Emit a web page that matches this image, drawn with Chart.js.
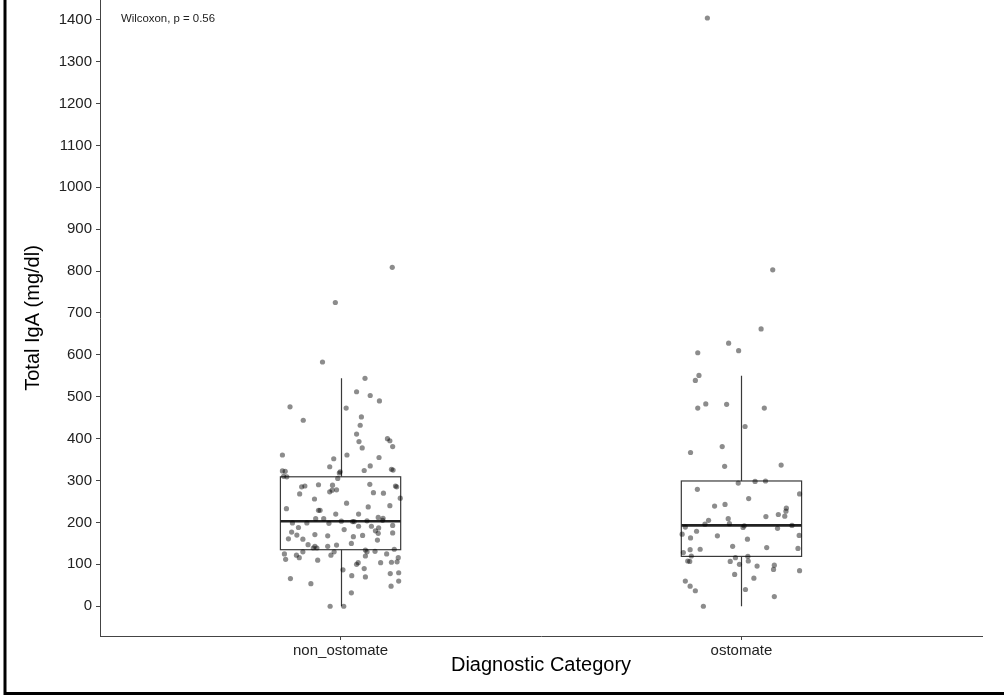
<!DOCTYPE html>
<html>
<head>
<meta charset="utf-8">
<script src="https://cdn.jsdelivr.net/npm/chart.js@4.4.1/dist/chart.umd.min.js"></script>
<style>
  html, body { margin: 0; padding: 0; background: #fff; }
  #wrap { width: 1004px; height: 698px; overflow: hidden; position: relative; }
  /* chart.js keeps a few px at the top for the point radius; push the canvas up by that much */
  #igaChart { position: absolute; left: 0; top: -4px; }
</style>
</head>
<body>
<div id="wrap"><canvas id="igaChart" width="1004" height="702"></canvas></div>
<script>
// categories and y ticks
const categories = ['non_ostomate', 'ostomate'];
const yTicks = [0, 100, 200, 300, 400, 500, 600, 700, 800, 900, 1000, 1100, 1200, 1300, 1400];

// box statistics per category
const whiskerLow = [0, 0];
const q1 = [135, 119];
const median = [203, 193];
const q3 = [309, 299];
const whiskerHigh = [544, 550];

// jittered points: horizontal offset from the category centre, and IgA value
const nonOstomateJitter = [
  0.129, -0.013, -0.045, 0.061, -0.126, 0.040, 0.074, 0.097, -0.093, 0.014,
  0.052, 0.049, 0.040, 0.046, 0.054, 0.117, 0.123, 0.130, -0.145, -0.017,
  0.016, 0.096, -0.027, 0.074, 0.059, 0.131, 0.127, -0.145, -0.138, -0.142,
  -0.134, -0.003, -0.001, -0.007, -0.097, -0.089, -0.055, -0.020, -0.027, -0.021,
  -0.010, -0.102, -0.065, 0.073, 0.082, 0.107, 0.140, 0.137, 0.149, 0.015,
  0.069, 0.123, -0.135, -0.055, -0.051, -0.012, 0.045, 0.094, 0.106, 0.105,
  -0.062, -0.042, -0.120, -0.084, -0.029, 0.002, 0.030, 0.034, 0.066, -0.105,
  0.045, 0.077, 0.095, 0.130, -0.122, -0.109, -0.064, -0.032, 0.009, 0.032,
  0.055, 0.087, 0.094, 0.130, -0.130, -0.094, 0.092, -0.081, -0.064, -0.068,
  -0.059, -0.032, -0.010, 0.027, 0.062, 0.066, 0.086, 0.134, -0.140, -0.094,
  -0.016, -0.024, -0.110, -0.103, -0.137, -0.057, 0.062, 0.115, 0.144, 0.040,
  0.044, 0.100, 0.127, 0.141, 0.006, 0.059, 0.028, 0.062, 0.124, 0.145,
  -0.125, -0.074, 0.126, 0.145, 0.027, -0.026, 0.008
];
const nonOstomateIgA = [
  809, 725, 583, 544, 476, 512, 503, 490, 444, 473,
  452, 432, 411, 393, 378, 400, 395, 381, 361, 352,
  361, 355, 333, 335, 324, 325, 327, 323, 322, 310,
  309, 318, 321, 305, 285, 287, 290, 289, 273, 277,
  278, 268, 256, 291, 271, 270, 285, 287, 258, 246,
  237, 240, 233, 229, 229, 220, 220, 212, 210, 205,
  209, 209, 199, 199, 198, 203, 202, 202, 204, 188,
  191, 191, 187, 193, 177, 170, 171, 168, 183, 166,
  169, 180, 174, 175, 161, 160, 158, 147, 143, 139,
  139, 143, 146, 150, 134, 130, 131, 136, 125, 130,
  130, 122, 122, 116, 112, 110, 120, 125, 116, 100,
  104, 104, 105, 106, 87, 90, 73, 70, 78, 80,
  66, 54, 48, 60, 32, 0, 0
];
const ostomateJitter = [
  -0.085, 0.078, 0.049, -0.032, -0.007, -0.109, -0.106, -0.115, -0.089, -0.109,
  -0.037, 0.057, 0.009, -0.048, -0.127, -0.042, 0.099, -0.008, 0.034, 0.060,
  -0.110, 0.145, 0.018, -0.041, -0.067, 0.112, 0.111, 0.092, 0.108, 0.061,
  -0.033, -0.082, -0.091, -0.030, -0.140, 0.004, 0.007, 0.090, 0.126, -0.112,
  -0.148, -0.060, -0.127, 0.015, 0.144, -0.022, 0.063, 0.141, -0.128, -0.103,
  -0.145, -0.125, -0.134, -0.129, -0.015, 0.016, -0.028, 0.017, -0.005, 0.039,
  0.082, 0.080, 0.145, -0.017, 0.031, -0.140, -0.128, -0.115, 0.010, 0.082,
  -0.095
];
const ostomateIgA = [
  1404, 803, 662, 628, 610, 605, 551, 539, 483, 473,
  482, 473, 429, 381, 367, 334, 337, 294, 298, 299,
  279, 268, 257, 243, 239, 234, 227, 219, 215, 214,
  209, 205, 196, 197, 189, 188, 192, 186, 193, 179,
  172, 168, 163, 160, 169, 143, 140, 138, 135, 136,
  128, 120, 108, 107, 116, 119, 107, 108, 100, 96,
  98, 88, 85, 76, 67, 60, 48, 37, 40, 23,
  0
];

const boxHalf = 0.15;

function toPoints(catIndex, offsets, values) {
  return values.map((v, i) => ({ x: catIndex + 1 + offsets[i], y: v }));
}

const boxPlugin = {
  id: 'boxes',
  beforeDatasetsDraw(chart) {
    const { ctx, scales: { x, y } } = chart;
    ctx.save();
    categories.forEach((c, i) => {
      const cx = Math.round(x.getPixelForValue(i + 1)) + 0.5;
      const left = x.getPixelForValue(i + 1 - boxHalf);
      const right = x.getPixelForValue(i + 1 + boxHalf);
      const yHi = y.getPixelForValue(whiskerHigh[i]);
      const yQ3 = y.getPixelForValue(q3[i]);
      const yMed = y.getPixelForValue(median[i]);
      const yQ1 = y.getPixelForValue(q1[i]);
      const yLo = y.getPixelForValue(whiskerLow[i]);

      ctx.strokeStyle = '#3a3a3a';
      ctx.lineWidth = 1.2;
      ctx.beginPath();
      ctx.moveTo(cx, yHi);
      ctx.lineTo(cx, yQ3);
      ctx.moveTo(cx, yQ1);
      ctx.lineTo(cx, yLo);
      ctx.stroke();
      ctx.strokeRect(left, yQ3, right - left, yQ1 - yQ3);

      ctx.strokeStyle = '#222';
      ctx.lineWidth = 2.6;
      ctx.beginPath();
      ctx.moveTo(left, yMed);
      ctx.lineTo(right, yMed);
      ctx.stroke();
    });
    ctx.restore();
  },
  afterDraw(chart) {
    const { ctx, chartArea, height, scales: { y } } = chart;
    ctx.save();
    ctx.fillStyle = '#222';
    ctx.font = '11.4px "Liberation Sans", Arial, sans-serif';
    ctx.textBaseline = 'middle';
    ctx.textAlign = 'left';
    ctx.fillText('Wilcoxon, p = 0.56', chartArea.left + 21, y.getPixelForValue(1400) - 1);

    // outer frame (left and bottom edges are all that show)
    ctx.strokeStyle = '#000';
    ctx.lineWidth = 3;
    ctx.beginPath();
    ctx.moveTo(5, 0);
    ctx.lineTo(5, height - 4.5);
    ctx.lineTo(1004, height - 4.5);
    ctx.stroke();
    ctx.restore();
  }
};

new Chart(document.getElementById('igaChart').getContext('2d'), {
  type: 'scatter',
  data: {
    datasets: [
      {
        label: categories[0],
        data: toPoints(0, nonOstomateJitter, nonOstomateIgA),
        backgroundColor: 'rgba(0,0,0,0.45)',
        borderWidth: 0,
        pointRadius: 2.6
      },
      {
        label: categories[1],
        data: toPoints(1, ostomateJitter, ostomateIgA),
        backgroundColor: 'rgba(0,0,0,0.45)',
        borderWidth: 0,
        pointRadius: 2.6
      }
    ]
  },
  plugins: [boxPlugin],
  options: {
    responsive: false,
    animation: false,
    events: [],
    layout: { padding: { left: 0, top: 0, right: 22, bottom: 0 } },
    plugins: {
      legend: { display: false },
      tooltip: { enabled: false }
    },
    scales: {
      x: {
        type: 'linear',
        min: 0.4,
        max: 2.6,
        afterBuildTicks: (axis) => {
          axis.ticks = categories.map((c, i) => ({ value: i + 1 }));
        },
        afterFit: (s) => {
          s.height = 62;
          s.paddingLeft = 0;
          s.paddingRight = 0;
        },
        grid: { drawOnChartArea: false, drawTicks: true, tickLength: 4, color: '#444' },
        border: { color: '#444', width: 1 },
        ticks: {
          autoSkip: false,
          maxRotation: 0,
          padding: 2,
          color: '#222',
          font: { family: '"Liberation Sans", Arial, sans-serif', size: 15 },
          callback: (v) => categories[Math.round(v) - 1]
        },
        title: {
          display: true,
          text: 'Diagnostic Category',
          color: '#000',
          font: { family: '"Liberation Sans", Arial, sans-serif', size: 20 },
          padding: { top: 0, bottom: 21 }
        }
      },
      y: {
        min: -71,
        max: 1447,
        afterBuildTicks: (axis) => {
          axis.ticks = yTicks.map(v => ({ value: v }));
        },
        afterFit: (s) => {
          s.width = 100;
          s.paddingTop = 0;
          s.paddingBottom = 0;
        },
        grid: { drawOnChartArea: false, drawTicks: true, tickLength: 4, color: '#444' },
        border: { color: '#444', width: 1 },
        ticks: {
          padding: 4,
          color: '#222',
          font: { family: '"Liberation Sans", Arial, sans-serif', size: 15 },
          callback: (v) => String(v)
        },
        title: {
          display: true,
          text: 'Total IgA (mg/dl)',
          color: '#000',
          font: { family: '"Liberation Sans", Arial, sans-serif', size: 20 },
          padding: { top: 21, bottom: 0 }
        }
      }
    }
  }
});
</script>
</body>
</html>
